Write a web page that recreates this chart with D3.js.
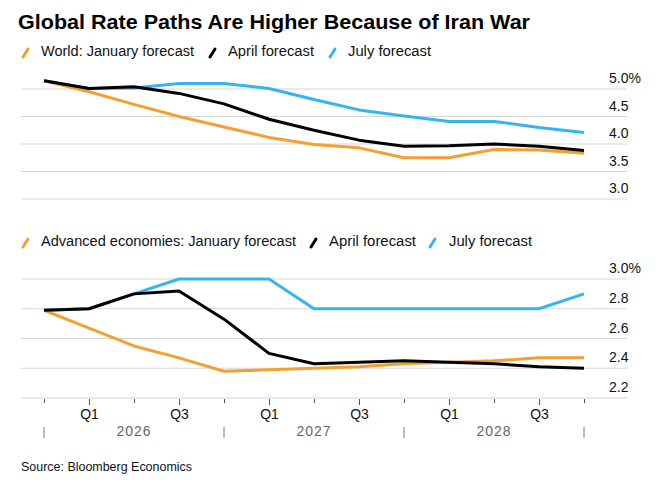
<!DOCTYPE html>
<html>
<head>
<meta charset="utf-8">
<script src="https://cdn.jsdelivr.net/npm/d3@7"></script>
<style>
  body { margin: 0; background: #fff; }
  text { font-family: "Liberation Sans", Arial, sans-serif; }
</style>
</head>
<body>
<script>
// Chart size
var svgWidth = 669;
var svgHeight = 495;

// Quarter positions, Q4 2025 .. Q4 2028
var quarters = d3.range(13);
var quarterLabels = ["", "Q1", "", "Q3", "", "Q1", "", "Q3", "", "Q1", "", "Q3", ""];
var years = ["2026", "2027", "2028"];

// World policy rate paths (%)
var worldJan = [5.15, 4.95, 4.72, 4.50, 4.31, 4.12, 3.99, 3.93, 3.75, 3.75, 3.90, 3.89, 3.83];
var worldApr = [5.15, 5.01, 5.04, 4.92, 4.73, 4.45, 4.25, 4.07, 3.96, 3.97, 4.00, 3.96, 3.88];
var worldJul = [5.15, 5.01, 5.02, 5.10, 5.10, 5.01, 4.81, 4.62, 4.51, 4.41, 4.41, 4.30, 4.21];

// Advanced economies policy rate paths (%)
var advJan = [2.79, 2.67, 2.55, 2.47, 2.38, 2.39, 2.40, 2.41, 2.43, 2.44, 2.45, 2.47, 2.47];
var advApr = [2.79, 2.80, 2.90, 2.92, 2.73, 2.50, 2.43, 2.44, 2.45, 2.44, 2.43, 2.41, 2.40];
var advJul = [2.79, 2.80, 2.90, 3.00, 3.00, 3.00, 2.80, 2.80, 2.80, 2.80, 2.80, 2.80, 2.90];

var worldTicks = [3.0, 3.5, 4.0, 4.5, 5.0];
var advTicks = [2.2, 2.4, 2.6, 2.8, 3.0];

var colors = { jan: "#f4a031", apr: "#000000", jul: "#35b5ec" };

var svg = d3.select("body")
  .append("svg")
  .attr("width", svgWidth)
  .attr("height", svgHeight);

var x = d3.scaleLinear().domain([0, 12]).range([44, 584]);
var yTop = d3.scaleLinear().domain([3, 5]).range([199, 89]);
var yBot = d3.scaleLinear().domain([2.2, 3.0]).range([398, 279]);

// Title
svg.append("text")
  .attr("x", 18)
  .attr("y", 29)
  .attr("textLength", 512)
  .attr("lengthAdjust", "spacingAndGlyphs")
  .style("font-size", "20px")
  .style("font-weight", "bold")
  .style("fill", "#000")
  .text("Global Rate Paths Are Higher Because of Iran War");

// Legend helper: slash marker + label
function legend(y, items) {
  items.forEach(function(it) {
    svg.append("line")
      .attr("x1", it.x).attr("y1", y + 1)
      .attr("x2", it.x + 5).attr("y2", y - 7)
      .style("stroke", it.color)
      .style("stroke-width", 3)
      .style("stroke-linecap", "round");
    svg.append("text")
      .attr("x", it.tx)
      .attr("y", y)
      .attr("textLength", it.w)
      .attr("lengthAdjust", "spacingAndGlyphs")
      .style("font-size", "14px")
      .style("fill", "#111")
      .text(it.label);
  });
}

legend(56, [
  { x: 23, tx: 41, color: colors.jan, label: "World: January forecast", w: 153 },
  { x: 210, tx: 228, color: colors.apr, label: "April forecast", w: 86 },
  { x: 330, tx: 348, color: colors.jul, label: "July forecast", w: 83 }
]);

legend(246, [
  { x: 23, tx: 41, color: colors.jan, label: "Advanced economies: January forecast", w: 255 },
  { x: 311, tx: 329, color: colors.apr, label: "April forecast", w: 87 },
  { x: 430, tx: 449, color: colors.jul, label: "July forecast", w: 83 }
]);

// Panel helper: gridlines, right-side labels, three lines
function panel(y, ticks, series) {
  var g = svg.append("g");
  g.selectAll(".grid")
    .data(ticks)
    .enter()
    .append("line")
    .attr("x1", 21).attr("x2", 627)
    .attr("y1", function(d) { return y(d); })
    .attr("y2", function(d) { return y(d); })
    .style("stroke", "#d6d6d6")
    .style("stroke-width", 1.2);

  g.selectAll(".ylab")
    .data(ticks)
    .enter()
    .append("text")
    .attr("x", 609)
    .attr("y", function(d) { return y(d) - 6; })
    .style("font-size", "14px")
    .style("fill", "#111")
    .text(function(d, i) { return d.toFixed(1) + (i === ticks.length - 1 ? "%" : ""); });

  var line = d3.line()
    .x(function(d, i) { return x(i); })
    .y(function(d) { return y(d); });

  series.forEach(function(s) {
    g.append("path")
      .datum(s.values)
      .attr("d", line)
      .style("fill", "none")
      .style("stroke", s.color)
      .style("stroke-width", 3)
      .style("stroke-linejoin", "round");
  });
}

panel(yTop, worldTicks, [
  { values: worldJul, color: colors.jul },
  { values: worldJan, color: colors.jan },
  { values: worldApr, color: colors.apr }
]);

panel(yBot, advTicks, [
  { values: advJul, color: colors.jul },
  { values: advJan, color: colors.jan },
  { values: advApr, color: colors.apr }
]);

// Bottom axis: quarter ticks (labelled quarters get a longer tick)
var xAxis = d3.axisBottom(x)
  .tickValues(quarters)
  .tickSize(6)
  .tickPadding(4)
  .tickFormat(function(d) { return quarterLabels[d]; });

var axisG = svg.append("g")
  .attr("transform", "translate(0,399)")
  .call(xAxis);
axisG.select(".domain").remove();
axisG.selectAll(".tick line")
  .attr("y2", function(d) { return quarterLabels[d] ? 6 : 4; })
  .style("stroke", "#555");
axisG.selectAll(".tick text")
  .style("font-size", "14px")
  .style("font-family", "Liberation Sans, Arial, sans-serif")
  .style("fill", "#111");

// Year separators and labels
svg.selectAll(".ysep")
  .data([0, 4, 8, 12])
  .enter()
  .append("line")
  .attr("x1", function(d) { return x(d); })
  .attr("x2", function(d) { return x(d); })
  .attr("y1", 427).attr("y2", 438)
  .style("stroke", "#777")
  .style("stroke-width", 1);

svg.selectAll(".year")
  .data(years)
  .enter()
  .append("text")
  .attr("x", function(d, i) { return x(2 + i * 4); })
  .attr("y", 436)
  .attr("text-anchor", "middle")
  .style("font-size", "14px")
  .style("letter-spacing", "1px")
  .style("fill", "#666")
  .text(function(d) { return d; });

// Source
svg.append("text")
  .attr("x", 21)
  .attr("y", 471)
  .attr("textLength", 171)
  .attr("lengthAdjust", "spacingAndGlyphs")
  .style("font-size", "12px")
  .style("fill", "#111")
  .text("Source: Bloomberg Economics");
</script>
</body>
</html>
